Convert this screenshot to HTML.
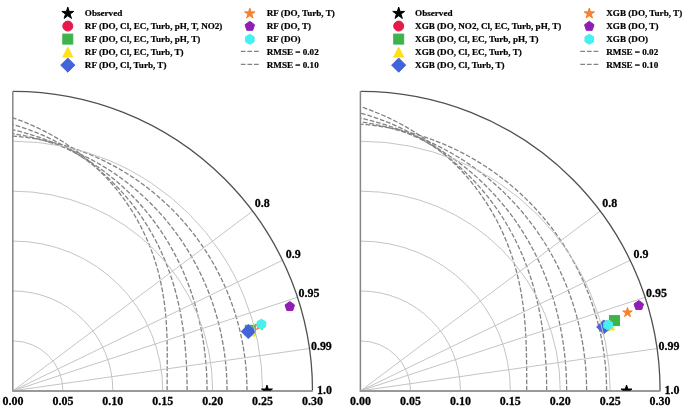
<!DOCTYPE html>
<html><head><meta charset="utf-8"><style>
html,body{margin:0;padding:0;background:#fff;}
svg{display:block;}
.grid{fill:none;stroke:#c4c4c4;stroke-width:1;}
.rmse{fill:none;stroke:#838383;stroke-width:1.3;stroke-dasharray:4.7 1.9;}
.outer{fill:none;stroke:#505050;stroke-width:1.3;}
.axisl{fill:none;stroke:#868686;stroke-width:1.5;}
.axisb{fill:none;stroke:#999;stroke-width:2;}
.tick{font-family:"Liberation Serif", "Times New Roman", serif;font-weight:bold;font-size:12px;text-anchor:middle;fill:#000;stroke:#000;stroke-width:0.25px;}
.leg{font-family:"Liberation Serif", "Times New Roman", serif;font-weight:bold;font-size:9.1px;fill:#000;stroke:#000;stroke-width:0.2px;}
</style></head><body>
<svg width="685" height="410" viewBox="0 0 685 410">
<clipPath id="clipRF"><rect x="8" y="0" width="340" height="390.8"/></clipPath>
<path d="M247,390.8 L246.98,387.74 L246.93,384.67 L246.84,381.61 L246.71,378.55 L246.55,375.49 L246.35,372.44 L246.11,369.38 L245.84,366.33 L245.53,363.28 L245.18,360.23 L244.8,357.19 L244.38,354.15 L243.93,351.12 L243.44,348.09 L242.91,345.07 L242.35,342.05 L241.75,339.04 L241.12,336.03 L240.45,333.04 L239.74,330.05 L239,327.06 L238.22,324.09 L237.41,321.12 L236.56,318.16 L235.67,315.21 L234.75,312.27 L233.79,309.35 L232.8,306.43 L231.77,303.52 L230.71,300.62 L229.61,297.74 L228.48,294.86 L227.31,292 L226.1,289.16 L224.86,286.32 L223.59,283.5 L222.28,280.69 L220.94,277.9 L219.56,275.12 L218.15,272.36 L216.7,269.61 L215.22,266.88 L213.71,264.16 L212.16,261.46 L210.58,258.78 L208.96,256.12 L207.31,253.47 L205.63,250.85 L203.91,248.24 L202.17,245.65 L200.38,243.08 L198.57,240.53 L196.72,238 L194.84,235.49 L192.93,233.01 L190.99,230.54 L189.01,228.1 L187,225.68 L184.96,223.28 L182.89,220.91 L180.79,218.56 L178.66,216.23 L176.5,213.93 L174.3,211.65 L172.08,209.4 L169.83,207.18 L167.55,204.98 L165.23,202.81 L162.89,200.66 L160.52,198.55 L158.12,196.46 L155.7,194.4 L153.24,192.36 L150.76,190.36 L148.25,188.39 L145.71,186.44 L143.15,184.53 L140.56,182.65 L137.94,180.79 L135.3,178.97 L132.63,177.18 L129.94,175.43 L127.22,173.71 L124.48,172.01 L121.71,170.36 L118.92,168.73 L116.11,167.15 L113.27,165.59 L110.41,164.07 L107.53,162.59 L104.63,161.14 L101.7,159.72 L98.76,158.35 L95.79,157.01 L92.8,155.71 L89.8,154.44 L86.77,153.21 L83.73,152.02 L80.67,150.87 L77.59,149.76 L74.49,148.68 L71.38,147.65 L68.24,146.65 L65.1,145.7 L61.94,144.78 L58.76,143.91 L55.57,143.07 L52.36,142.28 L49.14,141.53 L45.91,140.82 L42.67,140.15 L39.41,139.52 L36.14,138.94 L32.86,138.4 L29.58,137.9 L26.28,137.44 L22.97,137.03 L19.65,136.66 L16.33,136.33 L13,136.05" class="rmse"/>
<path d="M227.04,390.8 L227.02,388 L226.98,385.2 L226.91,382.4 L226.81,379.59 L226.68,376.79 L226.52,374 L226.34,371.2 L226.12,368.4 L225.88,365.6 L225.61,362.81 L225.31,360.02 L224.98,357.23 L224.62,354.44 L224.23,351.65 L223.81,348.87 L223.37,346.08 L222.89,343.31 L222.39,340.53 L221.86,337.76 L221.3,334.99 L220.7,332.22 L220.08,329.46 L219.43,326.7 L218.75,323.95 L218.04,321.2 L217.3,318.45 L216.54,315.71 L215.74,312.98 L214.91,310.25 L214.05,307.52 L213.16,304.81 L212.24,302.09 L211.29,299.39 L210.31,296.69 L209.3,294 L208.25,291.31 L207.18,288.64 L206.08,285.97 L204.94,283.31 L203.78,280.65 L202.58,278.01 L201.35,275.38 L200.1,272.75 L198.81,270.14 L197.48,267.53 L196.13,264.94 L194.75,262.35 L193.33,259.78 L191.88,257.22 L190.4,254.67 L188.89,252.14 L187.35,249.61 L185.78,247.1 L184.17,244.61 L182.53,242.13 L180.86,239.66 L179.16,237.21 L177.42,234.77 L175.66,232.35 L173.86,229.94 L172.03,227.55 L170.17,225.18 L168.27,222.82 L166.35,220.49 L164.39,218.17 L162.4,215.87 L160.38,213.59 L158.33,211.33 L156.25,209.09 L154.13,206.87 L151.98,204.68 L149.81,202.5 L147.6,200.35 L145.36,198.22 L143.09,196.11 L140.78,194.03 L138.45,191.97 L136.09,189.94 L133.7,187.93 L131.27,185.95 L128.82,183.99 L126.33,182.06 L123.82,180.16 L121.28,178.29 L118.71,176.44 L116.11,174.63 L113.48,172.84 L110.82,171.08 L108.14,169.36 L105.43,167.66 L102.69,166 L99.92,164.37 L97.12,162.77 L94.3,161.21 L91.46,159.67 L88.58,158.18 L85.69,156.71 L82.76,155.29 L79.81,153.89 L76.84,152.54 L73.85,151.22 L70.83,149.94 L67.78,148.69 L64.72,147.48 L61.63,146.32 L58.52,145.19 L55.39,144.1 L52.24,143.05 L49.07,142.04 L45.88,141.07 L42.67,140.14 L39.44,139.25 L36.19,138.41 L32.93,137.61 L29.64,136.85 L26.35,136.13 L23.03,135.46 L19.7,134.83 L16.36,134.25 L13,133.71" class="rmse"/>
<path d="M207.07,390.8 L207.06,388.26 L207.03,385.72 L206.98,383.18 L206.91,380.64 L206.82,378.1 L206.71,375.55 L206.58,373.01 L206.43,370.47 L206.26,367.93 L206.07,365.38 L205.86,362.84 L205.63,360.29 L205.38,357.74 L205.11,355.2 L204.81,352.65 L204.5,350.1 L204.16,347.54 L203.8,344.99 L203.42,342.44 L203.02,339.88 L202.59,337.33 L202.15,334.77 L201.68,332.21 L201.18,329.66 L200.67,327.1 L200.13,324.53 L199.56,321.97 L198.98,319.41 L198.36,316.85 L197.73,314.28 L197.07,311.72 L196.38,309.15 L195.66,306.59 L194.93,304.03 L194.16,301.46 L193.37,298.9 L192.55,296.33 L191.7,293.77 L190.83,291.21 L189.93,288.65 L189,286.09 L188.04,283.53 L187.06,280.98 L186.04,278.43 L185,275.88 L183.92,273.33 L182.82,270.78 L181.68,268.25 L180.52,265.71 L179.32,263.18 L178.09,260.65 L176.83,258.13 L175.54,255.61 L174.22,253.1 L172.87,250.6 L171.48,248.1 L170.06,245.62 L168.61,243.14 L167.12,240.66 L165.6,238.2 L164.05,235.75 L162.46,233.3 L160.84,230.87 L159.19,228.44 L157.5,226.03 L155.77,223.63 L154.01,221.25 L152.22,218.88 L150.39,216.52 L148.53,214.17 L146.63,211.84 L144.7,209.53 L142.73,207.23 L140.73,204.95 L138.69,202.69 L136.62,200.44 L134.51,198.22 L132.37,196.01 L130.19,193.83 L127.97,191.66 L125.72,189.52 L123.44,187.4 L121.12,185.3 L118.77,183.22 L116.38,181.17 L113.95,179.15 L111.5,177.15 L109,175.17 L106.48,173.22 L103.92,171.3 L101.32,169.41 L98.7,167.55 L96.04,165.72 L93.34,163.92 L90.62,162.14 L87.86,160.41 L85.07,158.7 L82.25,157.02 L79.39,155.38 L76.51,153.78 L73.59,152.21 L70.65,150.67 L67.67,149.17 L64.67,147.71 L61.64,146.29 L58.57,144.9 L55.48,143.56 L52.37,142.25 L49.22,140.98 L46.05,139.75 L42.85,138.57 L39.63,137.43 L36.38,136.33 L33.11,135.27 L29.81,134.26 L26.5,133.29 L23.15,132.36 L19.79,131.48 L16.41,130.65 L13,129.86" class="rmse"/>
<path d="M187.1,390.8 L187.1,388.52 L187.08,386.24 L187.06,383.96 L187.02,381.68 L186.98,379.4 L186.92,377.11 L186.86,374.82 L186.78,372.53 L186.7,370.24 L186.6,367.95 L186.49,365.65 L186.37,363.34 L186.24,361.03 L186.1,358.72 L185.94,356.4 L185.77,354.08 L185.59,351.75 L185.39,349.41 L185.19,347.07 L184.96,344.72 L184.72,342.37 L184.47,340.01 L184.2,337.64 L183.92,335.27 L183.62,332.88 L183.3,330.49 L182.96,328.1 L182.61,325.69 L182.24,323.28 L181.84,320.86 L181.43,318.44 L181,316 L180.55,313.56 L180.07,311.11 L179.58,308.65 L179.06,306.19 L178.51,303.72 L177.95,301.24 L177.35,298.76 L176.74,296.27 L176.1,293.77 L175.43,291.26 L174.73,288.76 L174.01,286.24 L173.26,283.72 L172.48,281.19 L171.67,278.66 L170.83,276.13 L169.96,273.59 L169.06,271.05 L168.13,268.51 L167.17,265.96 L166.17,263.41 L165.14,260.86 L164.08,258.31 L162.98,255.76 L161.85,253.2 L160.69,250.65 L159.48,248.1 L158.25,245.55 L156.97,243.01 L155.66,240.46 L154.32,237.92 L152.93,235.39 L151.51,232.86 L150.05,230.33 L148.55,227.82 L147.02,225.3 L145.44,222.8 L143.82,220.31 L142.17,217.82 L140.47,215.35 L138.74,212.88 L136.97,210.43 L135.15,207.99 L133.3,205.56 L131.4,203.15 L129.46,200.75 L127.48,198.37 L125.47,196 L123.41,193.65 L121.31,191.32 L119.17,189.01 L116.98,186.72 L114.76,184.45 L112.5,182.2 L110.19,179.97 L107.85,177.77 L105.46,175.59 L103.04,173.44 L100.57,171.31 L98.06,169.2 L95.52,167.13 L92.93,165.08 L90.3,163.07 L87.64,161.08 L84.94,159.12 L82.2,157.2 L79.42,155.31 L76.6,153.45 L73.74,151.63 L70.85,149.84 L67.92,148.09 L64.95,146.37 L61.95,144.7 L58.92,143.06 L55.85,141.46 L52.74,139.9 L49.6,138.38 L46.43,136.9 L43.22,135.46 L39.98,134.07 L36.71,132.72 L33.41,131.42 L30.08,130.16 L26.72,128.95 L23.33,127.78 L19.92,126.66 L16.47,125.59 L13,124.57" class="rmse"/>
<path d="M167.14,390.8 L167.14,388.78 L167.14,386.76 L167.15,384.74 L167.15,382.72 L167.16,380.7 L167.17,378.67 L167.18,376.63 L167.19,374.59 L167.2,372.55 L167.21,370.5 L167.22,368.44 L167.23,366.37 L167.23,364.3 L167.24,362.21 L167.24,360.12 L167.25,358.01 L167.24,355.9 L167.23,353.77 L167.22,351.63 L167.2,349.48 L167.18,347.32 L167.15,345.14 L167.11,342.95 L167.06,340.74 L167,338.52 L166.93,336.29 L166.85,334.04 L166.76,331.78 L166.66,329.5 L166.54,327.2 L166.4,324.89 L166.25,322.57 L166.09,320.23 L165.9,317.87 L165.7,315.5 L165.48,313.11 L165.23,310.71 L164.97,308.29 L164.68,305.85 L164.37,303.4 L164.04,300.94 L163.68,298.46 L163.29,295.97 L162.88,293.47 L162.44,290.95 L161.97,288.41 L161.48,285.87 L160.95,283.31 L160.39,280.74 L159.8,278.16 L159.17,275.57 L158.51,272.97 L157.82,270.35 L157.09,267.73 L156.33,265.11 L155.53,262.47 L154.69,259.82 L153.81,257.17 L152.9,254.52 L151.94,251.86 L150.95,249.19 L149.91,246.52 L148.84,243.85 L147.72,241.18 L146.56,238.5 L145.36,235.83 L144.11,233.16 L142.82,230.48 L141.49,227.81 L140.11,225.15 L138.69,222.49 L137.22,219.83 L135.7,217.18 L134.14,214.54 L132.54,211.9 L130.88,209.27 L129.19,206.66 L127.44,204.05 L125.65,201.46 L123.81,198.88 L121.92,196.31 L119.98,193.76 L118,191.22 L115.97,188.71 L113.89,186.21 L111.77,183.72 L109.6,181.26 L107.38,178.82 L105.11,176.41 L102.8,174.01 L100.44,171.64 L98.03,169.3 L95.57,166.98 L93.07,164.69 L90.52,162.42 L87.93,160.19 L85.29,157.99 L82.61,155.81 L79.88,153.67 L77.1,151.57 L74.28,149.49 L71.42,147.46 L68.52,145.46 L65.57,143.5 L62.57,141.57 L59.54,139.68 L56.47,137.84 L53.35,136.04 L50.19,134.27 L47,132.55 L43.76,130.88 L40.49,129.25 L37.18,127.66 L33.83,126.12 L30.45,124.63 L27.02,123.19 L23.57,121.8 L20.08,120.45 L16.56,119.16 L13,117.92" class="rmse"/>
<text transform="translate(13,404.65) scale(1,1.07)" class="tick">0.00</text>
<text transform="translate(62.91,404.65) scale(1,1.07)" class="tick">0.05</text>
<text transform="translate(112.83,404.65) scale(1,1.07)" class="tick">0.10</text>
<text transform="translate(162.75,404.65) scale(1,1.07)" class="tick">0.15</text>
<text transform="translate(212.66,404.65) scale(1,1.07)" class="tick">0.20</text>
<text transform="translate(262.57,404.65) scale(1,1.07)" class="tick">0.25</text>
<text transform="translate(312.49,404.65) scale(1,1.07)" class="tick">0.30</text>
<text transform="translate(262.2,207.03) scale(1,1.07)" class="tick">0.8</text>
<text transform="translate(293.35,258.15) scale(1,1.07)" class="tick">0.9</text>
<text transform="translate(308.93,296.67) scale(1,1.07)" class="tick">0.95</text>
<text transform="translate(321.38,349.99) scale(1,1.07)" class="tick">0.99</text>
<text transform="translate(324.5,393.93) scale(1,1.07)" class="tick">1.0</text>
<circle cx="249.6" cy="330.5" r="5" fill="#e6194b" stroke="#e6194b" stroke-width="1.0"/>
<rect x="245.3" y="325.3" width="10" height="10" fill="#3cb44b" stroke="#3cb44b" stroke-width="1.0"/>
<path d="M250.6,326 L245.6,336 L255.6,336 Z" fill="#ffe119" stroke="#ffe119" stroke-width="1.0" stroke-linejoin="miter"/>
<path d="M248.3,324.43 L255.37,331.5 L248.3,338.57 L241.23,331.5 Z" fill="#4363d8" stroke="#4363d8" stroke-width="1.0" stroke-linejoin="miter"/>
<path d="M259.5,320.8 L260.62,324.25 L264.26,324.25 L261.32,326.39 L262.44,329.85 L259.5,327.71 L256.56,329.85 L257.68,326.39 L254.74,324.25 L258.38,324.25 Z" fill="#f58231" stroke="#f58231" stroke-width="1.0" stroke-linejoin="bevel"/>
<path d="M289.8,301.5 L285.04,304.95 L286.86,310.55 L292.74,310.55 L294.56,304.95 Z" fill="#911eb4" stroke="#911eb4" stroke-width="1.0" stroke-linejoin="miter"/>
<path d="M261.4,319.2 L257.07,321.7 L257.07,326.7 L261.4,329.2 L265.73,326.7 L265.73,321.7 Z" fill="#46f0f0" stroke="#46f0f0" stroke-width="1.0" stroke-linejoin="miter"/>
<path d="M62.91,390.8 A49.91,49.91 0 0 0 13,340.88" class="grid"/>
<path d="M112.83,390.8 A99.83,99.83 0 0 0 13,290.97" class="grid"/>
<path d="M162.74,390.8 A149.74,149.74 0 0 0 13,241.06" class="grid"/>
<path d="M212.66,390.8 A199.66,199.66 0 0 0 13,191.14" class="grid"/>
<path d="M262.57,390.8 A249.57,249.57 0 0 0 13,141.23" class="grid"/>
<line x1="13" y1="390.8" x2="252.59" y2="211.11" class="grid"/>
<line x1="13" y1="390.8" x2="282.54" y2="260.26" class="grid"/>
<line x1="13" y1="390.8" x2="297.52" y2="297.28" class="grid"/>
<line x1="13" y1="390.8" x2="309.5" y2="348.55" class="grid"/>
<path d="M312.49,390.8 A299.49,299.49 0 0 0 13,91.31" class="outer"/>
<path d="M12.8,91.31 L12.8,391.3" class="axisl"/>
<path d="M12.1,390.9 L312.79,390.9" class="axisb"/>
<g clip-path="url(#clipRF)"><path d="M266.97,385.05 L268.26,389.02 L272.44,389.02 L269.06,391.48 L270.35,395.45 L266.97,393 L263.59,395.45 L264.88,391.48 L261.5,389.02 L265.68,389.02 Z" fill="#000" stroke="#000" stroke-width="1.0" stroke-linejoin="bevel"/></g>
<path d="M67.8,7.1 L69.2,11.42 L73.74,11.42 L70.07,14.09 L71.47,18.41 L67.8,15.74 L64.13,18.41 L65.53,14.09 L61.86,11.42 L66.4,11.42 Z" fill="#000" stroke="#000" stroke-width="1.0" stroke-linejoin="bevel"/>
<text transform="translate(84.85,16.15) scale(1,1.0)" class="leg">Observed</text>
<circle cx="67.8" cy="26.07" r="5" fill="#e6194b" stroke="#e6194b" stroke-width="1.0"/>
<text transform="translate(84.85,29.17) scale(1,1.0)" class="leg">RF (DO, Cl, EC, Turb, pH, T, NO2)</text>
<rect x="62.8" y="34.09" width="10" height="10" fill="#3cb44b" stroke="#3cb44b" stroke-width="1.0"/>
<text transform="translate(84.85,42.19) scale(1,1.0)" class="leg">RF (DO, Cl, EC, Turb, pH, T)</text>
<path d="M67.8,47.11 L62.8,57.11 L72.8,57.11 Z" fill="#ffe119" stroke="#ffe119" stroke-width="1.0" stroke-linejoin="miter"/>
<text transform="translate(84.85,55.21) scale(1,1.0)" class="leg">RF (DO, Cl, EC, Turb, T)</text>
<path d="M67.8,58.06 L74.87,65.13 L67.8,72.2 L60.73,65.13 Z" fill="#4363d8" stroke="#4363d8" stroke-width="1.0" stroke-linejoin="miter"/>
<text transform="translate(84.85,68.23) scale(1,1.0)" class="leg">RF (DO, Cl, Turb, T)</text>
<path d="M249.8,8.05 L251.03,11.85 L255.03,11.85 L251.8,14.2 L253.03,18 L249.8,15.65 L246.57,18 L247.8,14.2 L244.57,11.85 L248.57,11.85 Z" fill="#f58231" stroke="#f58231" stroke-width="1.0" stroke-linejoin="bevel"/>
<text transform="translate(266.8,16.15) scale(1,1.0)" class="leg">RF (DO, Turb, T)</text>
<path d="M249.8,21.27 L245.04,24.72 L246.86,30.32 L252.74,30.32 L254.56,24.72 Z" fill="#911eb4" stroke="#911eb4" stroke-width="1.0" stroke-linejoin="miter"/>
<text transform="translate(266.8,29.17) scale(1,1.0)" class="leg">RF (DO, T)</text>
<path d="M249.8,34.29 L245.47,36.79 L245.47,41.79 L249.8,44.29 L254.13,41.79 L254.13,36.79 Z" fill="#46f0f0" stroke="#46f0f0" stroke-width="1.0" stroke-linejoin="miter"/>
<text transform="translate(266.8,42.19) scale(1,1.0)" class="leg">RF (DO)</text>
<line x1="240.8" y1="51.31" x2="258.8" y2="51.31" class="rmse"/>
<text transform="translate(266.8,55.21) scale(1,1.0)" class="leg">RMSE = 0.02</text>
<line x1="240.8" y1="64.33" x2="258.8" y2="64.33" class="rmse"/>
<text transform="translate(266.8,68.23) scale(1,1.0)" class="leg">RMSE = 0.10</text>
<clipPath id="clipXGB"><rect x="355.6" y="0" width="340" height="390.8"/></clipPath>
<path d="M606.58,390.8 L606.56,387.58 L606.5,384.36 L606.41,381.14 L606.27,377.92 L606.1,374.71 L605.89,371.5 L605.64,368.28 L605.35,365.08 L605.02,361.87 L604.66,358.67 L604.26,355.47 L603.82,352.28 L603.34,349.09 L602.82,345.91 L602.26,342.73 L601.67,339.56 L601.03,336.4 L600.36,333.24 L599.66,330.09 L598.91,326.95 L598.12,323.81 L597.3,320.69 L596.44,317.57 L595.54,314.46 L594.61,311.36 L593.64,308.28 L592.63,305.2 L591.58,302.14 L590.49,299.08 L589.37,296.04 L588.21,293.01 L587.01,289.99 L585.78,286.99 L584.51,284 L583.2,281.03 L581.86,278.06 L580.48,275.12 L579.06,272.19 L577.61,269.27 L576.12,266.37 L574.59,263.49 L573.03,260.62 L571.43,257.78 L569.8,254.95 L568.13,252.13 L566.42,249.34 L564.69,246.57 L562.91,243.81 L561.1,241.08 L559.26,238.36 L557.38,235.67 L555.47,233 L553.52,230.35 L551.54,227.72 L549.52,225.12 L547.47,222.54 L545.39,219.98 L543.28,217.45 L541.13,214.94 L538.95,212.45 L536.74,209.99 L534.49,207.56 L532.21,205.15 L529.91,202.77 L527.56,200.41 L525.19,198.09 L522.79,195.79 L520.36,193.52 L517.89,191.27 L515.4,189.06 L512.88,186.88 L510.32,184.72 L507.74,182.6 L505.13,180.51 L502.49,178.45 L499.82,176.42 L497.13,174.42 L494.4,172.45 L491.65,170.52 L488.87,168.62 L486.07,166.76 L483.24,164.93 L480.38,163.13 L477.5,161.37 L474.6,159.64 L471.66,157.95 L468.71,156.29 L465.73,154.68 L462.73,153.09 L459.7,151.55 L456.65,150.04 L453.58,148.57 L450.49,147.14 L447.38,145.75 L444.24,144.39 L441.09,143.08 L437.92,141.8 L434.72,140.57 L431.51,139.37 L428.28,138.22 L425.03,137.11 L421.76,136.03 L418.48,135 L415.18,134.01 L411.87,133.07 L408.54,132.16 L405.19,131.3 L401.83,130.48 L398.46,129.71 L395.07,128.98 L391.67,128.29 L388.26,127.64 L384.84,127.04 L381.4,126.49 L377.96,125.98 L374.5,125.51 L371.04,125.09 L367.57,124.72 L364.09,124.39 L360.6,124.1" class="rmse"/>
<path d="M586.62,390.8 L586.6,387.84 L586.55,384.88 L586.48,381.93 L586.37,378.97 L586.23,376.01 L586.06,373.06 L585.86,370.1 L585.63,367.15 L585.37,364.2 L585.08,361.25 L584.76,358.3 L584.4,355.35 L584.02,352.41 L583.6,349.47 L583.16,346.53 L582.68,343.6 L582.17,340.66 L581.63,337.74 L581.06,334.81 L580.45,331.89 L579.82,328.97 L579.16,326.06 L578.46,323.15 L577.73,320.25 L576.97,317.35 L576.18,314.46 L575.35,311.57 L574.5,308.69 L573.61,305.82 L572.69,302.95 L571.74,300.09 L570.75,297.23 L569.74,294.39 L568.69,291.55 L567.61,288.72 L566.49,285.89 L565.35,283.08 L564.17,280.27 L562.96,277.47 L561.71,274.69 L560.44,271.91 L559.13,269.14 L557.78,266.39 L556.41,263.64 L555,260.91 L553.56,258.19 L552.08,255.48 L550.57,252.78 L549.03,250.09 L547.45,247.42 L545.85,244.76 L544.2,242.12 L542.53,239.49 L540.82,236.88 L539.08,234.28 L537.3,231.7 L535.49,229.13 L533.65,226.58 L531.78,224.05 L529.87,221.53 L527.93,219.03 L525.95,216.56 L523.94,214.1 L521.9,211.66 L519.83,209.24 L517.72,206.84 L515.58,204.46 L513.4,202.1 L511.2,199.77 L508.96,197.46 L506.69,195.17 L504.38,192.9 L502.05,190.66 L499.68,188.44 L497.28,186.25 L494.84,184.08 L492.38,181.94 L489.89,179.83 L487.36,177.74 L484.8,175.68 L482.21,173.65 L479.59,171.65 L476.94,169.67 L474.26,167.73 L471.55,165.81 L468.81,163.93 L466.04,162.08 L463.24,160.26 L460.41,158.47 L457.56,156.72 L454.67,155 L451.76,153.31 L448.82,151.66 L445.86,150.04 L442.86,148.46 L439.84,146.92 L436.8,145.41 L433.73,143.93 L430.63,142.5 L427.51,141.1 L424.36,139.74 L421.19,138.43 L418,137.15 L414.78,135.91 L411.54,134.71 L408.28,133.55 L405,132.43 L401.69,131.36 L398.37,130.32 L395.02,129.33 L391.66,128.39 L388.28,127.48 L384.87,126.62 L381.46,125.81 L378.02,125.04 L374.57,124.31 L371.1,123.63 L367.61,123 L364.11,122.41 L360.6,121.87" class="rmse"/>
<path d="M566.65,390.8 L566.64,388.1 L566.6,385.41 L566.55,382.71 L566.47,380.01 L566.37,377.31 L566.25,374.61 L566.11,371.92 L565.94,369.22 L565.75,366.52 L565.54,363.82 L565.31,361.12 L565.05,358.42 L564.77,355.72 L564.47,353.02 L564.14,350.31 L563.79,347.61 L563.42,344.91 L563.02,342.2 L562.6,339.5 L562.16,336.79 L561.69,334.09 L561.19,331.38 L560.67,328.68 L560.13,325.97 L559.56,323.26 L558.97,320.55 L558.35,317.85 L557.7,315.14 L557.03,312.43 L556.33,309.73 L555.6,307.02 L554.85,304.32 L554.06,301.61 L553.25,298.91 L552.42,296.21 L551.55,293.51 L550.66,290.81 L549.73,288.11 L548.78,285.41 L547.8,282.72 L546.79,280.03 L545.74,277.34 L544.67,274.66 L543.57,271.98 L542.43,269.3 L541.27,266.63 L540.07,263.96 L538.84,261.3 L537.58,258.64 L536.29,255.99 L534.96,253.34 L533.6,250.71 L532.21,248.07 L530.78,245.45 L529.32,242.83 L527.83,240.22 L526.3,237.62 L524.74,235.03 L523.15,232.45 L521.52,229.88 L519.85,227.33 L518.15,224.78 L516.41,222.24 L514.64,219.72 L512.84,217.21 L510.99,214.71 L509.11,212.23 L507.2,209.76 L505.25,207.31 L503.26,204.88 L501.24,202.46 L499.18,200.06 L497.09,197.67 L494.96,195.31 L492.79,192.96 L490.59,190.63 L488.35,188.33 L486.07,186.04 L483.76,183.78 L481.42,181.54 L479.03,179.32 L476.61,177.13 L474.16,174.96 L471.67,172.82 L469.14,170.7 L466.58,168.61 L463.98,166.55 L461.35,164.51 L458.68,162.5 L455.98,160.53 L453.25,158.58 L450.48,156.66 L447.67,154.78 L444.84,152.92 L441.97,151.1 L439.06,149.32 L436.13,147.56 L433.16,145.85 L430.16,144.16 L427.13,142.52 L424.06,140.91 L420.97,139.34 L417.85,137.8 L414.69,136.31 L411.51,134.85 L408.3,133.44 L405.06,132.07 L401.79,130.73 L398.5,129.44 L395.17,128.19 L391.82,126.99 L388.45,125.83 L385.05,124.71 L381.63,123.64 L378.18,122.62 L374.71,121.64 L371.21,120.7 L367.7,119.82 L364.16,118.98 L360.6,118.19" class="rmse"/>
<path d="M546.68,390.8 L546.68,388.36 L546.66,385.93 L546.63,383.49 L546.58,381.05 L546.53,378.61 L546.46,376.17 L546.38,373.73 L546.28,371.28 L546.18,368.84 L546.06,366.38 L545.92,363.93 L545.77,361.47 L545.61,359.01 L545.44,356.54 L545.25,354.07 L545.04,351.6 L544.82,349.12 L544.58,346.63 L544.33,344.14 L544.06,341.64 L543.77,339.14 L543.47,336.63 L543.15,334.12 L542.81,331.6 L542.45,329.07 L542.08,326.54 L541.68,324 L541.26,321.45 L540.83,318.9 L540.37,316.34 L539.89,313.77 L539.38,311.2 L538.86,308.62 L538.31,306.04 L537.74,303.45 L537.14,300.85 L536.52,298.25 L535.87,295.64 L535.19,293.02 L534.49,290.4 L533.76,287.78 L533.01,285.15 L532.22,282.51 L531.41,279.88 L530.57,277.23 L529.69,274.59 L528.79,271.94 L527.85,269.28 L526.89,266.63 L525.89,263.97 L524.85,261.31 L523.79,258.65 L522.69,255.99 L521.56,253.33 L520.39,250.67 L519.18,248.01 L517.95,245.35 L516.67,242.7 L515.36,240.04 L514.01,237.39 L512.62,234.74 L511.2,232.1 L509.74,229.46 L508.24,226.83 L506.7,224.21 L505.12,221.59 L503.5,218.98 L501.84,216.38 L500.15,213.79 L498.41,211.2 L496.63,208.63 L494.81,206.07 L492.95,203.52 L491.05,200.99 L489.11,198.47 L487.13,195.96 L485.1,193.47 L483.04,191 L480.93,188.54 L478.78,186.11 L476.59,183.69 L474.36,181.29 L472.08,178.91 L469.77,176.55 L467.41,174.21 L465.01,171.9 L462.57,169.61 L460.09,167.35 L457.56,165.11 L455,162.9 L452.39,160.72 L449.75,158.56 L447.06,156.43 L444.34,154.34 L441.57,152.27 L438.76,150.24 L435.92,148.24 L433.03,146.27 L430.11,144.34 L427.15,142.44 L424.15,140.58 L421.11,138.75 L418.04,136.97 L414.93,135.22 L411.78,133.51 L408.6,131.84 L405.38,130.21 L402.12,128.62 L398.84,127.08 L395.52,125.58 L392.16,124.12 L388.78,122.71 L385.36,121.34 L381.91,120.02 L378.43,118.75 L374.92,117.53 L371.38,116.35 L367.82,115.22 L364.22,114.15 L360.6,113.12" class="rmse"/>
<path d="M526.72,390.8 L526.72,388.63 L526.71,386.45 L526.71,384.27 L526.71,382.09 L526.7,379.91 L526.7,377.73 L526.69,375.54 L526.68,373.34 L526.66,371.15 L526.65,368.94 L526.63,366.73 L526.6,364.51 L526.58,362.28 L526.55,360.04 L526.51,357.8 L526.47,355.54 L526.42,353.28 L526.37,351 L526.3,348.72 L526.23,346.42 L526.15,344.11 L526.07,341.79 L525.97,339.45 L525.86,337.1 L525.74,334.74 L525.6,332.37 L525.46,329.98 L525.3,327.58 L525.12,325.16 L524.93,322.73 L524.72,320.29 L524.49,317.83 L524.25,315.36 L523.98,312.87 L523.7,310.37 L523.39,307.85 L523.07,305.32 L522.72,302.78 L522.34,300.22 L521.94,297.65 L521.52,295.06 L521.07,292.47 L520.59,289.85 L520.08,287.23 L519.55,284.59 L518.98,281.95 L518.39,279.29 L517.76,276.62 L517.1,273.94 L516.4,271.25 L515.68,268.55 L514.91,265.84 L514.12,263.12 L513.28,260.4 L512.41,257.66 L511.5,254.93 L510.56,252.18 L509.57,249.43 L508.55,246.68 L507.48,243.92 L506.37,241.16 L505.22,238.4 L504.03,235.63 L502.8,232.87 L501.53,230.1 L500.21,227.34 L498.84,224.58 L497.44,221.82 L495.98,219.07 L494.48,216.32 L492.94,213.57 L491.35,210.84 L489.72,208.11 L488.03,205.38 L486.3,202.67 L484.53,199.97 L482.7,197.28 L480.83,194.6 L478.91,191.94 L476.94,189.28 L474.93,186.65 L472.87,184.03 L470.76,181.43 L468.6,178.85 L466.39,176.28 L464.13,173.74 L461.83,171.22 L459.48,168.72 L457.08,166.24 L454.63,163.79 L452.13,161.37 L449.59,158.97 L447,156.6 L444.36,154.26 L441.68,151.94 L438.95,149.66 L436.17,147.41 L433.35,145.2 L430.48,143.02 L427.57,140.87 L424.61,138.76 L421.61,136.68 L418.56,134.64 L415.47,132.65 L412.34,130.69 L409.16,128.77 L405.95,126.9 L402.69,125.06 L399.39,123.27 L396.05,121.53 L392.67,119.83 L389.25,118.18 L385.8,116.57 L382.3,115.02 L378.77,113.51 L375.21,112.05 L371.61,110.64 L367.97,109.29 L364.3,107.98 L360.6,106.73" class="rmse"/>
<text transform="translate(360.6,404.65) scale(1,1.07)" class="tick">0.00</text>
<text transform="translate(410.52,404.65) scale(1,1.07)" class="tick">0.05</text>
<text transform="translate(460.43,404.65) scale(1,1.07)" class="tick">0.10</text>
<text transform="translate(510.35,404.65) scale(1,1.07)" class="tick">0.15</text>
<text transform="translate(560.26,404.65) scale(1,1.07)" class="tick">0.20</text>
<text transform="translate(610.17,404.65) scale(1,1.07)" class="tick">0.25</text>
<text transform="translate(660.09,404.65) scale(1,1.07)" class="tick">0.30</text>
<text transform="translate(609.8,207.03) scale(1,1.07)" class="tick">0.8</text>
<text transform="translate(640.95,258.15) scale(1,1.07)" class="tick">0.9</text>
<text transform="translate(656.53,296.67) scale(1,1.07)" class="tick">0.95</text>
<text transform="translate(668.99,349.99) scale(1,1.07)" class="tick">0.99</text>
<text transform="translate(672.1,393.93) scale(1,1.07)" class="tick">1.0</text>
<circle cx="606.5" cy="326" r="5" fill="#e6194b" stroke="#e6194b" stroke-width="1.0"/>
<rect x="609.5" y="315.6" width="10" height="10" fill="#3cb44b" stroke="#3cb44b" stroke-width="1.0"/>
<path d="M609.5,320 L604.5,330 L614.5,330 Z" fill="#ffe119" stroke="#ffe119" stroke-width="1.0" stroke-linejoin="miter"/>
<path d="M603.7,319.93 L610.77,327 L603.7,334.07 L596.63,327 Z" fill="#4363d8" stroke="#4363d8" stroke-width="1.0" stroke-linejoin="miter"/>
<path d="M627.5,307.5 L628.62,310.95 L632.26,310.95 L629.32,313.09 L630.44,316.55 L627.5,314.41 L624.56,316.55 L625.68,313.09 L622.74,310.95 L626.38,310.95 Z" fill="#f58231" stroke="#f58231" stroke-width="1.0" stroke-linejoin="bevel"/>
<path d="M638.8,300.5 L634.04,303.95 L635.86,309.55 L641.74,309.55 L643.56,303.95 Z" fill="#911eb4" stroke="#911eb4" stroke-width="1.0" stroke-linejoin="miter"/>
<path d="M608.1,320.1 L603.77,322.6 L603.77,327.6 L608.1,330.1 L612.43,327.6 L612.43,322.6 Z" fill="#46f0f0" stroke="#46f0f0" stroke-width="1.0" stroke-linejoin="miter"/>
<path d="M410.52,390.8 A49.91,49.91 0 0 0 360.6,340.88" class="grid"/>
<path d="M460.43,390.8 A99.83,99.83 0 0 0 360.6,290.97" class="grid"/>
<path d="M510.35,390.8 A149.74,149.74 0 0 0 360.6,241.06" class="grid"/>
<path d="M560.26,390.8 A199.66,199.66 0 0 0 360.6,191.14" class="grid"/>
<path d="M610.17,390.8 A249.57,249.57 0 0 0 360.6,141.23" class="grid"/>
<line x1="360.6" y1="390.8" x2="600.19" y2="211.11" class="grid"/>
<line x1="360.6" y1="390.8" x2="630.14" y2="260.26" class="grid"/>
<line x1="360.6" y1="390.8" x2="645.12" y2="297.28" class="grid"/>
<line x1="360.6" y1="390.8" x2="657.1" y2="348.55" class="grid"/>
<path d="M660.09,390.8 A299.49,299.49 0 0 0 360.6,91.31" class="outer"/>
<path d="M360.4,91.31 L360.4,391.3" class="axisl"/>
<path d="M359.7,390.9 L660.39,390.9" class="axisb"/>
<g clip-path="url(#clipXGB)"><path d="M626.55,385.05 L627.84,389.02 L632.02,389.02 L628.64,391.48 L629.93,395.45 L626.55,393 L623.17,395.45 L624.46,391.48 L621.08,389.02 L625.26,389.02 Z" fill="#000" stroke="#000" stroke-width="1.0" stroke-linejoin="bevel"/></g>
<path d="M398.7,7.1 L400.1,11.42 L404.64,11.42 L400.97,14.09 L402.37,18.41 L398.7,15.74 L395.03,18.41 L396.43,14.09 L392.76,11.42 L397.3,11.42 Z" fill="#000" stroke="#000" stroke-width="1.0" stroke-linejoin="bevel"/>
<text transform="translate(415.1,16.15) scale(1,1.0)" class="leg">Observed</text>
<circle cx="398.7" cy="26.07" r="5" fill="#e6194b" stroke="#e6194b" stroke-width="1.0"/>
<text transform="translate(415.1,29.17) scale(1,1.0)" class="leg">XGB (DO, NO2, Cl, EC, Turb, pH, T)</text>
<rect x="393.7" y="34.09" width="10" height="10" fill="#3cb44b" stroke="#3cb44b" stroke-width="1.0"/>
<text transform="translate(415.1,42.19) scale(1,1.0)" class="leg">XGB (DO, Cl, EC, Turb, pH, T)</text>
<path d="M398.7,47.11 L393.7,57.11 L403.7,57.11 Z" fill="#ffe119" stroke="#ffe119" stroke-width="1.0" stroke-linejoin="miter"/>
<text transform="translate(415.1,55.21) scale(1,1.0)" class="leg">XGB (DO, Cl, EC, Turb, T)</text>
<path d="M398.7,58.06 L405.77,65.13 L398.7,72.2 L391.63,65.13 Z" fill="#4363d8" stroke="#4363d8" stroke-width="1.0" stroke-linejoin="miter"/>
<text transform="translate(415.1,68.23) scale(1,1.0)" class="leg">XGB (DO, Cl, Turb, T)</text>
<path d="M589.3,8.05 L590.53,11.85 L594.53,11.85 L591.3,14.2 L592.53,18 L589.3,15.65 L586.07,18 L587.3,14.2 L584.07,11.85 L588.07,11.85 Z" fill="#f58231" stroke="#f58231" stroke-width="1.0" stroke-linejoin="bevel"/>
<text transform="translate(606.3,16.15) scale(1,1.0)" class="leg">XGB (DO, Turb, T)</text>
<path d="M589.3,21.27 L584.54,24.72 L586.36,30.32 L592.24,30.32 L594.06,24.72 Z" fill="#911eb4" stroke="#911eb4" stroke-width="1.0" stroke-linejoin="miter"/>
<text transform="translate(606.3,29.17) scale(1,1.0)" class="leg">XGB (DO, T)</text>
<path d="M589.3,34.29 L584.97,36.79 L584.97,41.79 L589.3,44.29 L593.63,41.79 L593.63,36.79 Z" fill="#46f0f0" stroke="#46f0f0" stroke-width="1.0" stroke-linejoin="miter"/>
<text transform="translate(606.3,42.19) scale(1,1.0)" class="leg">XGB (DO)</text>
<line x1="580.3" y1="51.31" x2="598.3" y2="51.31" class="rmse"/>
<text transform="translate(606.3,55.21) scale(1,1.0)" class="leg">RMSE = 0.02</text>
<line x1="580.3" y1="64.33" x2="598.3" y2="64.33" class="rmse"/>
<text transform="translate(606.3,68.23) scale(1,1.0)" class="leg">RMSE = 0.10</text>
</svg>
</body></html>
